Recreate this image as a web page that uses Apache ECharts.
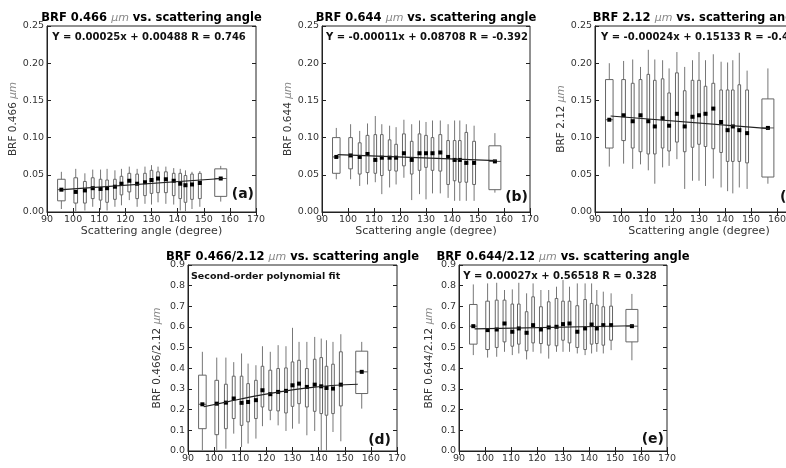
<!DOCTYPE html>
<html>
<head>
<meta charset="utf-8">
<script src="https://cdn.jsdelivr.net/npm/echarts@6/dist/echarts.min.js"></script>
<style>
  html, body { margin: 0; padding: 0; background: #fff; }
  #chart { width: 786px; height: 468px; }
</style>
</head>
<body>
<div id="chart"></div>
<script>
// scattering angle bins (centre of each box) and box widths in degrees
var angles = [95.5, 101, 104.5, 107.5, 110.5, 113, 116, 118.5, 121.5, 124.5, 127.5, 130, 132.5, 135.5, 138.5, 141, 143, 145.5, 148.5, 156.5];
var boxWidths = [2.9, 1.4, 1.1, 1.1, 1.0, 1.0, 1.0, 1.0, 1.1, 1.0, 1.0, 1.0, 1.0, 1.1, 1.0, 1.0, 1.0, 1.0, 1.1, 4.6];

// (a) BRF 0.466
var aLow  = [0.004, 0.001, 0.002, 0.007, 0.003, 0.002, 0.007, 0.009, 0.016, 0.007, 0.011, 0.010, 0.013, 0.011, 0.010, 0.002, 0.001, 0.004, 0.007, 0.014];
var aQ1   = [0.015, 0.012, 0.012, 0.018, 0.016, 0.013, 0.017, 0.023, 0.027, 0.018, 0.022, 0.025, 0.026, 0.026, 0.022, 0.018, 0.013, 0.017, 0.018, 0.021];
var aQ3   = [0.044, 0.046, 0.041, 0.046, 0.044, 0.043, 0.044, 0.048, 0.052, 0.051, 0.052, 0.056, 0.054, 0.054, 0.052, 0.052, 0.049, 0.051, 0.052, 0.058];
var aHigh = [0.054, 0.058, 0.052, 0.057, 0.057, 0.058, 0.056, 0.058, 0.061, 0.058, 0.061, 0.063, 0.061, 0.061, 0.059, 0.058, 0.056, 0.054, 0.055, 0.062];
var aMean = [0.030, 0.027, 0.029, 0.032, 0.031, 0.032, 0.034, 0.038, 0.042, 0.038, 0.040, 0.043, 0.045, 0.044, 0.042, 0.038, 0.036, 0.037, 0.039, 0.045];
var aFitX = [96, 157];
var aFitY = [0.030, 0.045];

// (b) BRF 0.644
var bLow  = [0.044, 0.044, 0.035, 0.037, 0.040, 0.024, 0.033, 0.037, 0.046, 0.016, 0.024, 0.017, 0.025, 0.025, 0.019, 0.015, 0.015, 0.015, 0.015, 0.026];
var bQ1   = [0.052, 0.058, 0.051, 0.053, 0.052, 0.049, 0.056, 0.055, 0.062, 0.051, 0.056, 0.060, 0.056, 0.055, 0.037, 0.042, 0.040, 0.040, 0.037, 0.030];
var bQ3   = [0.100, 0.100, 0.093, 0.103, 0.104, 0.104, 0.097, 0.091, 0.105, 0.095, 0.105, 0.103, 0.100, 0.104, 0.096, 0.096, 0.096, 0.107, 0.095, 0.089];
var bHigh = [0.113, 0.118, 0.109, 0.119, 0.129, 0.118, 0.116, 0.114, 0.124, 0.118, 0.123, 0.121, 0.123, 0.123, 0.118, 0.123, 0.123, 0.118, 0.116, 0.106];
var bMean = [0.074, 0.076, 0.074, 0.078, 0.070, 0.073, 0.073, 0.073, 0.079, 0.070, 0.079, 0.079, 0.079, 0.080, 0.074, 0.070, 0.070, 0.066, 0.066, 0.068];
var bFitX = [96, 157];
var bFitY = [0.077, 0.069];

// (c) BRF 2.12
var cLow  = [0.061, 0.065, 0.058, 0.064, 0.056, 0.038, 0.060, 0.062, 0.071, 0.031, 0.042, 0.042, 0.035, 0.045, 0.033, 0.028, 0.025, 0.033, 0.031, 0.038];
var cQ1   = [0.086, 0.096, 0.086, 0.081, 0.078, 0.078, 0.086, 0.082, 0.094, 0.081, 0.087, 0.091, 0.088, 0.085, 0.080, 0.068, 0.068, 0.068, 0.066, 0.047];
var cQ3   = [0.178, 0.178, 0.173, 0.178, 0.185, 0.177, 0.179, 0.160, 0.187, 0.163, 0.177, 0.177, 0.169, 0.173, 0.164, 0.164, 0.164, 0.171, 0.164, 0.152];
var cHigh = [0.200, 0.203, 0.205, 0.195, 0.218, 0.205, 0.204, 0.193, 0.215, 0.195, 0.204, 0.215, 0.204, 0.212, 0.202, 0.201, 0.204, 0.214, 0.190, 0.193];
var cMean = [0.124, 0.130, 0.122, 0.130, 0.122, 0.115, 0.126, 0.116, 0.132, 0.115, 0.128, 0.130, 0.132, 0.139, 0.121, 0.110, 0.115, 0.110, 0.106, 0.113];
var cFitX = [96, 157];
var cFitY = [0.129, 0.112];

// (d) BRF 0.466/2.12
var dLow  = [0.003, 0.000, 0.011, 0.084, 0.019, 0.036, 0.060, 0.120, 0.149, 0.124, 0.097, 0.108, 0.132, 0.076, 0.097, 0.000, 0.000, 0.092, 0.047, 0.205];
var dQ1   = [0.108, 0.079, 0.108, 0.157, 0.124, 0.141, 0.157, 0.213, 0.197, 0.194, 0.184, 0.216, 0.229, 0.213, 0.192, 0.181, 0.173, 0.181, 0.218, 0.278];
var dQ3   = [0.367, 0.342, 0.323, 0.362, 0.362, 0.326, 0.342, 0.410, 0.391, 0.399, 0.402, 0.431, 0.439, 0.399, 0.444, 0.452, 0.410, 0.420, 0.480, 0.483];
var dHigh = [0.480, 0.452, 0.452, 0.430, 0.472, 0.423, 0.415, 0.507, 0.480, 0.512, 0.507, 0.596, 0.528, 0.528, 0.552, 0.544, 0.536, 0.528, 0.565, 0.528];
var dMean = [0.226, 0.229, 0.234, 0.254, 0.233, 0.237, 0.246, 0.294, 0.275, 0.286, 0.291, 0.318, 0.326, 0.310, 0.321, 0.313, 0.305, 0.302, 0.321, 0.383];
var dFitX = [96, 105, 115, 125, 135, 145, 155];
var dFitY = [0.214, 0.238, 0.264, 0.286, 0.304, 0.317, 0.323];

// (e) BRF 0.644/2.12
var eLow  = [0.464, 0.452, 0.456, 0.480, 0.464, 0.472, 0.443, 0.480, 0.472, 0.447, 0.480, 0.480, 0.480, 0.472, 0.464, 0.472, 0.480, 0.472, 0.488, 0.439];
var eQ1   = [0.517, 0.491, 0.501, 0.528, 0.507, 0.517, 0.485, 0.523, 0.520, 0.512, 0.509, 0.536, 0.523, 0.501, 0.491, 0.517, 0.520, 0.512, 0.536, 0.528];
var eQ3   = [0.709, 0.725, 0.730, 0.730, 0.711, 0.711, 0.674, 0.746, 0.698, 0.722, 0.738, 0.725, 0.725, 0.703, 0.733, 0.714, 0.706, 0.698, 0.701, 0.685];
var eHigh = [0.806, 0.811, 0.814, 0.779, 0.782, 0.814, 0.763, 0.811, 0.779, 0.779, 0.795, 0.827, 0.795, 0.811, 0.811, 0.811, 0.779, 0.771, 0.763, 0.760];
var eMean = [0.604, 0.585, 0.588, 0.617, 0.577, 0.593, 0.572, 0.609, 0.588, 0.598, 0.601, 0.614, 0.617, 0.577, 0.593, 0.612, 0.593, 0.609, 0.609, 0.604];
var eFitX = [96, 157];
var eFitY = [0.591, 0.606];

var xTicks = { min: 90, max: 170, step: 10 };

var FONT = 'DejaVu Sans';

var panels = [
    { grid: { left: 47,  top: 26,  width: 209, height: 186 }, yMax: 0.25, yStep: 0.05, dec: 2, yName: 'BRF 0.466 ',      nameGap: 28,
      low: aLow, q1: aQ1, q3: aQ3, high: aHigh, mean: aMean, fitX: aFitX, fitY: aFitY, smooth: false },
    { grid: { left: 322, top: 26,  width: 208, height: 186 }, yMax: 0.25, yStep: 0.05, dec: 2, yName: 'BRF 0.644 ',      nameGap: 22,
      low: bLow, q1: bQ1, q3: bQ3, high: bHigh, mean: bMean, fitX: bFitX, fitY: bFitY, smooth: false },
    { grid: { left: 595, top: 26,  width: 208, height: 186 }, yMax: 0.25, yStep: 0.05, dec: 2, yName: 'BRF 2.12 ',       nameGap: 28,
      low: cLow, q1: cQ1, q3: cQ3, high: cHigh, mean: cMean, fitX: cFitX, fitY: cFitY, smooth: false },
    { grid: { left: 188, top: 265, width: 209, height: 186 }, yMax: 0.9,  yStep: 0.1,  dec: 1, yName: 'BRF 0.466/2.12 ', nameGap: 25,
      low: dLow, q1: dQ1, q3: dQ3, high: dHigh, mean: dMean, fitX: dFitX, fitY: dFitY, smooth: true },
    { grid: { left: 459, top: 265, width: 208, height: 186 }, yMax: 0.9,  yStep: 0.1,  dec: 1, yName: 'BRF 0.644/2.12 ', nameGap: 24,
      low: eLow, q1: eQ1, q3: eQ3, high: eHigh, mean: eMean, fitX: eFitX, fitY: eFitY, smooth: false }
];

var tickStyle = { inside: true, length: 4, lineStyle: { color: '#222', width: 1 } };

function renderBox(params, api) {
    var x = api.value(0);
    var lo = api.coord([x, api.value(1)]);
    var b1 = api.coord([x, api.value(2)]);
    var b3 = api.coord([x, api.value(3)]);
    var hi = api.coord([x, api.value(4)]);
    var mn = api.coord([x, api.value(5)]);
    var hw = api.size([api.value(6), 0])[0] / 2;
    return {
        type: 'group',
        children: [
            { type: 'line', shape: { x1: lo[0], y1: lo[1], x2: b1[0], y2: b1[1] }, style: { stroke: '#777', lineWidth: 1 } },
            { type: 'line', shape: { x1: b3[0], y1: b3[1], x2: hi[0], y2: hi[1] }, style: { stroke: '#777', lineWidth: 1 } },
            { type: 'rect', shape: { x: b3[0] - hw, y: b3[1], width: hw * 2, height: b1[1] - b3[1] }, style: { fill: 'none', stroke: '#666', lineWidth: 1 } },
            { type: 'line', shape: { x1: mn[0] - hw, y1: mn[1], x2: mn[0] + hw, y2: mn[1] }, style: { stroke: '#555', lineWidth: 1 } },
            { type: 'rect', shape: { x: mn[0] - 2, y: mn[1] - 2, width: 4, height: 4 }, style: { fill: '#000' } }
        ]
    };
}

var grids = [], xAxes = [], yAxes = [], series = [];

panels.forEach(function (p, i) {
    grids.push({
        left: p.grid.left, top: p.grid.top, width: p.grid.width, height: p.grid.height,
        outerBoundsMode: 'none', containLabel: false,
        show: true, borderColor: '#222', borderWidth: 1
    });
    xAxes.push({
        gridIndex: i, type: 'value', position: 'bottom',
        min: xTicks.min, max: xTicks.max, interval: xTicks.step,
        axisLine: { show: true, onZero: false, lineStyle: { color: '#222' } },
        axisTick: tickStyle,
        axisLabel: { margin: 3, fontSize: 9.5, color: '#333', fontFamily: FONT, showMinLabel: true, showMaxLabel: true },
        splitLine: { show: false },
        name: 'Scattering angle (degree)', nameLocation: 'middle', nameGap: i < 3 ? 14 : 20,
        nameTextStyle: { fontSize: 11, color: '#333', fontFamily: FONT, verticalAlign: 'top' }
    });
    xAxes.push({
        gridIndex: i, type: 'value', position: 'top',
        min: xTicks.min, max: xTicks.max, interval: xTicks.step,
        axisLine: { show: false }, axisTick: tickStyle, axisLabel: { show: false }, splitLine: { show: false }
    });
    yAxes.push({
        gridIndex: i, type: 'value', position: 'left',
        min: 0, max: p.yMax, interval: p.yStep,
        axisLine: { show: true, onZero: false, lineStyle: { color: '#222' } },
        axisTick: tickStyle,
        axisLabel: {
            margin: 3, fontSize: 9.5, color: '#333', fontFamily: FONT, showMinLabel: true, showMaxLabel: true,
            formatter: (function (d) { return function (v) { return v.toFixed(d); }; })(p.dec)
        },
        splitLine: { show: false },
        name: '{n|' + p.yName + '}{u|μm}', nameLocation: 'middle', nameGap: p.nameGap,
        nameTextStyle: {
            rich: {
                n: { fontSize: 10.5, color: '#333', fontFamily: FONT },
                u: { fontSize: 10.5, color: '#888', fontStyle: 'italic', fontFamily: FONT }
            }
        }
    });
    yAxes.push({
        gridIndex: i, type: 'value', position: 'right',
        min: 0, max: p.yMax, interval: p.yStep,
        axisLine: { show: false }, axisTick: tickStyle, axisLabel: { show: false }, splitLine: { show: false }
    });

    var rows = angles.map(function (a, k) {
        return [a, p.low[k], p.q1[k], p.q3[k], p.high[k], p.mean[k], boxWidths[k]];
    });
    series.push({
        type: 'custom', xAxisIndex: 2 * i, yAxisIndex: 2 * i,
        renderItem: renderBox, data: rows, clip: true, silent: true
    });
    series.push({
        type: 'line', xAxisIndex: 2 * i, yAxisIndex: 2 * i,
        data: p.fitX.map(function (x, k) { return [x, p.fitY[k]]; }),
        smooth: p.smooth, symbol: 'none', silent: true, z: 5,
        lineStyle: { color: '#222', width: 1.2 }
    });
});

// panel titles, fit equations and panel letters
var titleRich = {
    b: { font: 'bold 11.5px "DejaVu Sans"', fill: '#000' },
    u: { font: 'italic 11px "DejaVu Sans"', fill: '#888' }
};
function titleText(x, y, name) {
    return {
        type: 'text', x: x, y: y, z: 10,
        style: { text: '{b|' + name + '}{u|μm}{b| vs. scattering angle}', rich: titleRich, align: 'center', verticalAlign: 'middle' }
    };
}
function plainText(x, y, s, font, align) {
    return {
        type: 'text', x: x, y: y, z: 10,
        style: { text: s, font: font, fill: '#111', align: align, verticalAlign: 'middle' }
    };
}
var eqFont = 'bold 10px "DejaVu Sans"';
var tagFont = 'bold 14px "DejaVu Sans"';

var graphics = [
    titleText(151.5, 18, 'BRF 0.466 '),
    titleText(426, 18, 'BRF 0.644 '),
    titleText(699, 18, 'BRF 2.12 '),
    titleText(292.5, 257, 'BRF 0.466/2.12 '),
    titleText(563, 257, 'BRF 0.644/2.12 '),
    plainText(149, 37, 'Y = 0.00025x + 0.00488 R = 0.746', eqFont, 'center'),
    plainText(427, 37, 'Y = -0.00011x + 0.08708 R = -0.392', eqFont, 'center'),
    plainText(601, 37, 'Y = -0.00024x + 0.15133 R = -0.4', eqFont, 'left'),
    plainText(191, 277, 'Second-order polynomial fit', 'bold 9.5px "DejaVu Sans"', 'left'),
    plainText(560, 276, 'Y = 0.00027x + 0.56518 R = 0.328', eqFont, 'center'),
    plainText(254, 194, '(a)', tagFont, 'right'),
    plainText(528, 197, '(b)', tagFont, 'right'),
    plainText(801, 197, '(c)', tagFont, 'right'),
    plainText(391, 440, '(d)', tagFont, 'right'),
    plainText(664, 439, '(e)', tagFont, 'right')
];

var chart = echarts.init(document.getElementById('chart'));
chart.setOption({
    backgroundColor: '#fff',
    animation: false,
    textStyle: { fontFamily: FONT },
    grid: grids,
    xAxis: xAxes,
    yAxis: yAxes,
    series: series,
    graphic: graphics
});
</script>
</body>
</html>
